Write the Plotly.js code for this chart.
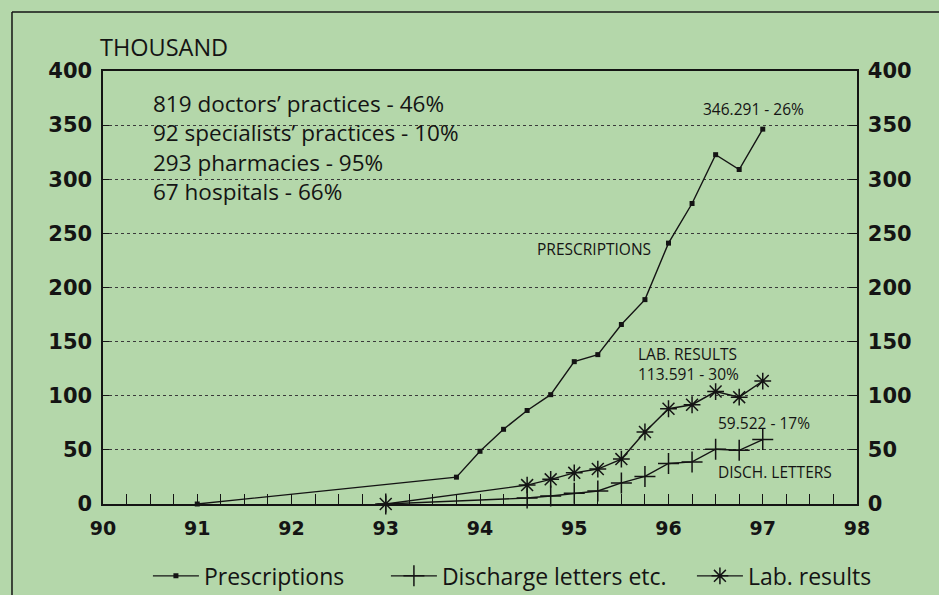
<!DOCTYPE html>
<html><head><meta charset="utf-8">
<script src="https://cdn.plot.ly/plotly-3.0.1.min.js"></script>
<style>html,body{margin:0;padding:0;background:#b4d7aa}</style>
</head><body><div id="chart" style="width:939px;height:595px"></div>
<script>
// Data (thousands), x = year (19xx, quarter steps)
const yearsPrescriptions = [91, 93.75, 94, 94.25, 94.5, 94.75, 95, 95.25, 95.5, 95.75, 96, 96.25, 96.5, 96.75, 97];
const prescriptions      = [0, 24.8, 48.7, 69, 86.4, 101, 131.5, 138, 165.8, 188.8, 241, 277.6, 322.7, 309, 346.3];

const yearsDischarge = [93, 94.5, 94.75, 95, 95.25, 95.5, 95.75, 96, 96.25, 96.5, 96.75, 97];
const discharge      = [0, 5.5, 7.4, 10, 12, 19.5, 25.5, 37.4, 38.9, 50.6, 49.6, 59.5];

const yearsLab = [93, 94.5, 94.75, 95, 95.25, 95.5, 95.75, 96, 96.25, 96.5, 96.75, 97];
const lab      = [0, 17.5, 22.8, 28.8, 32.3, 41.5, 66.5, 88, 91.7, 103.9, 98.7, 113.6];

const seriesNames = ['Prescriptions', 'Discharge letters etc.', 'Lab. results'];
const xTickVals = [90, 91, 92, 93, 94, 95, 96, 97, 98];
const yTickVals = [0, 50, 100, 150, 200, 250, 300, 350, 400];
const infoLines = ['819 doctors\u2019 practices - 46%', '92 specialists\u2019 practices - 10%', '293 pharmacies - 95%', '67 hospitals - 66%'];

const ink = '#141414';
const bg = '#b4d7aa';

const traces = [
  {type:'scatter', mode:'lines+markers', name:seriesNames[0], x:yearsPrescriptions, y:prescriptions, legendwidth:177,
   line:{color:ink, width:1.4}, marker:{symbol:'square', size:5, color:ink}, cliponaxis:false},
  {type:'scatter', mode:'lines+markers', name:seriesNames[1], x:yearsDischarge, y:discharge, legendwidth:245,
   line:{color:ink, width:1.4}, marker:{symbol:'cross-thin-open', size:15, color:ink, line:{color:ink, width:1.5}}, cliponaxis:false},
  {type:'scatter', mode:'lines+markers', name:seriesNames[2], x:yearsLab, y:lab,
   line:{color:ink, width:1.4}, marker:{symbol:'asterisk-open', size:14, color:ink, line:{color:ink, width:1.5}}, cliponaxis:false},
  {type:'scatter', mode:'lines', x:[], y:[], yaxis:'y2', showlegend:false, hoverinfo:'skip'}
];

const tickFontY = {family:'DejaVu Sans', size:21, color:ink, weight:'bold'};
const tickFontX = {family:'DejaVu Sans', size:19, color:ink, weight:'bold'};
const annFont = {family:'Open Sans', size:15.5, color:ink};
const bigFont = {family:'Open Sans', size:22.5, color:ink};

const annotations = [
  {text:'THOUSAND', xref:'paper', yref:'paper', x:-0.006, y:1.0554, xanchor:'left', yanchor:'middle', showarrow:false, font:{family:'Open Sans', size:23.5, color:ink}},
  {text:infoLines.join('<br>'), xref:'x', yref:'y', x:90.51, y:329.2, xanchor:'left', yanchor:'middle', align:'left', showarrow:false, font:bigFont},
  {text:'PRESCRIPTIONS', xref:'x', yref:'y', x:94.58, y:235.4, xanchor:'left', yanchor:'middle', showarrow:false, font:annFont},
  {text:'LAB. RESULTS<br>113.591 - 30%', xref:'x', yref:'y', x:95.66, y:129.7, xanchor:'left', yanchor:'middle', align:'left', showarrow:false, font:annFont},
  {text:'59.522 - 17%', xref:'x', yref:'y', x:96.5, y:74.5, xanchor:'left', yanchor:'middle', showarrow:false, font:annFont},
  {text:'DISCH. LETTERS', xref:'x', yref:'y', x:96.5, y:29.4, xanchor:'left', yanchor:'middle', showarrow:false, font:annFont},
  {text:'346.291 - 26%', xref:'x', yref:'y', x:96.35, y:365, xanchor:'left', yanchor:'middle', showarrow:false, font:annFont}
];

const layout = {
  width:939, height:595,
  paper_bgcolor:bg, plot_bgcolor:bg,
  margin:{l:103, r:82, t:71, b:91, autoexpand:false},
  showlegend:true,
  xaxis:{range:[90,98], tickvals:xTickVals, ticktext:xTickVals.map(String), ticks:'inside', ticklen:10, tickwidth:1, tickcolor:ink,
         showline:true, linecolor:ink, linewidth:1.6, mirror:true, showgrid:false, zeroline:false,
         tickfont:tickFontX, ticklabelstandoff:7,
         minor:{dtick:0.25, tick0:90, ticks:'inside', ticklen:10, tickwidth:1, tickcolor:ink, showgrid:false}},
  yaxis:{range:[0,400], tickvals:yTickVals, ticks:'inside', ticklen:6, tickwidth:1, tickcolor:ink,
         showline:true, linecolor:ink, linewidth:1.6, showgrid:true, gridcolor:'#3a3a3a', gridwidth:1, griddash:'dot',
         zeroline:false, tickfont:tickFontY, ticklabelstandoff:5},
  yaxis2:{range:[0,400], overlaying:'y', side:'right', tickvals:yTickVals, ticks:'inside', ticklen:8, tickwidth:1, tickcolor:ink,
          showline:true, linecolor:ink, linewidth:1.6, showgrid:false, zeroline:false, tickfont:tickFontY, ticklabelstandoff:5},
  legend:{orientation:'h', x:0.543, xanchor:'center', y:-0.166, yanchor:'middle', bgcolor:'rgba(0,0,0,0)',
          itemwidth:46, font:{family:'Open Sans', size:23, color:ink}, traceorder:'normal'},
  annotations:annotations,
  shapes:[
    {type:'line', xref:'paper', yref:'paper', x0:-0.1207, x1:1.11, y0:1.1363, y1:1.1363, line:{color:ink, width:1.5}},
    {type:'line', xref:'paper', yref:'paper', x0:-0.1207, x1:-0.1207, y0:1.1363, y1:-0.22, line:{color:ink, width:1.5}}
  ]
};

Plotly.newPlot('chart', traces, layout, {staticPlot:true, displayModeBar:false});
</script>
</body></html>
